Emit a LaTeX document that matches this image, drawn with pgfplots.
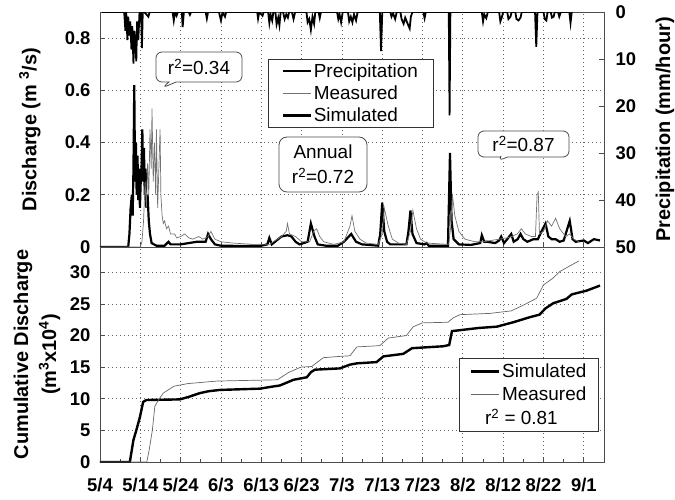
\documentclass[border=0pt]{standalone}
\usepackage{pgfplots}
\pgfplotsset{compat=1.18}
\usepackage{fontspec}
\setmainfont{Liberation Sans}
\usetikzlibrary{shapes.callouts}
\pgfplotsset{
  myax/.style={scale only axis, width=504bp, xmin=0, xmax=125,
    axis line style={black!70, line width=0.8bp},
    tick style={black!70, line width=0.8bp},
    major tick length=5bp, minor tick length=3bp,
    grid style={black!60, line width=0.8bp, dash pattern=on 0.8bp off 3.2bp},
    /pgf/number format/assume math mode=true,
    ticklabel style={font=\fontsize{18.5}{18.5}\selectfont\bfseries},
    label style={font=\fontsize{20}{28}\selectfont\bfseries},
  },
  legend image code/.code={\draw[#1] (0bp,0bp) -- (28bp,0bp);},
}
\begin{document}
\begin{tikzpicture}
\useasboundingbox (-100bp,-38bp) rectangle (575bp,462bp);
% ---------------- bottom panel: cumulative discharge
\begin{axis}[myax, at={(0bp,0bp)}, anchor=south west, height=215bp,
  ymin=0, ymax=34, ytick={0,5,10,15,20,25,30}, yticklabels={0,5,10,15,20,25,30},
  xtick={0,10,...,120}, minor x tick num=1,
  xticklabels={5/4,5/14,5/24,6/3,6/13,6/23,7/3,7/13,7/23,8/2,8/12,8/22,9/1},
  xtick pos=bottom, ytick pos=left,
  xmajorgrids, ymajorgrids,
  xticklabel style={yshift=-13bp},
  yticklabel style={xshift=-6bp},
  ylabel={Cumulative Discharge\\(m\textsuperscript{3}x10\textsuperscript{4})},
  ylabel style={at={(axis description cs:-0.125,0.5)}, anchor=center, align=center},
  legend style={at={(0.712,0.484)}, anchor=north west, draw=black!80, line width=0.8bp,
    font=\fontsize{19}{19}\selectfont, inner xsep=11bp, inner ysep=4bp,
    nodes={inner sep=1.5bp}, row sep=4.5bp},
  legend cell align=left,
]
\addplot[black, line width=2.4bp] coordinates {
(0,0) (7.4,0) (8.3,3.5) (9.0,5.0) (9.9,7.1) (10.7,9.5) (11.5,9.8) (19.8,9.9)
(22,10.3) (24.8,10.9) (27,11.2) (29.8,11.4) (39.7,11.6) (42.5,11.9) (44.6,12.1)
(46.5,12.6) (48,13.0) (51.3,13.4) (52.3,14.2) (53.3,14.6) (59.5,14.8) (62,15.4)
(63.7,15.6) (68.6,15.8) (70.3,16.7) (75.2,17.1) (77.4,18.0) (85.1,18.3) (86.6,18.5)
(87.3,20.7) (90,20.9) (94,21.2) (98.4,21.4) (102.5,22.1) (106.6,22.9) (109,23.3)
(110.5,24.3) (112.4,25.1) (115.7,25.8) (117,26.5) (118.2,26.7) (120.7,27.1) (124,27.9)};
\addlegendentry{Simulated}
\addplot[black!60, line width=0.7bp] coordinates {
(0,0) (11.6,0) (12.2,1.9) (13,5.1) (13.6,8.8) (14.5,9.8) (15.7,10.9) (18.4,12.0)
(21.8,12.4) (29,12.8) (44,13.0) (46.6,14.1) (49.8,15.0) (52.5,15.1) (55.4,16.5)
(59.5,16.7) (62,16.8) (63.7,18.2) (69.4,18.4) (71.5,19.6) (76,20.0) (77.7,21.4)
(80,22.0) (86.3,22.1) (87.6,22.8) (89.3,23.3) (96.7,23.5) (102,23.9) (105,24.8)
(108.3,25.9) (110,28.0) (112.4,29.1) (114,30.1) (116.5,31.0) (118.8,31.8)};
\addlegendentry{Measured}
\addlegendimage{empty legend}
\addlegendentry{\hspace{-17bp}r\textsuperscript{2} = 0.81}
\end{axis}
% ---------------- top panel: discharge
\begin{axis}[myax, at={(0bp,215bp)}, anchor=south west, height=235bp,
  ymin=0, ymax=0.9, ytick={0,0.2,0.4,0.6,0.8}, yticklabels={0,0.2,0.4,0.6,0.8},
  xtick={0,10,...,120}, xticklabels={},
  xtick pos=bottom, ytick pos=left,
  xmajorgrids, ymajorgrids,
  yticklabel style={xshift=-6bp},
  ylabel={Discharge (m \textsuperscript{3}/s)},
  ylabel style={at={(axis description cs:-0.139,0.5)}, anchor=center},
  legend style={at={(0.333,0.80)}, anchor=north west, draw=black!80, line width=0.8bp,
    font=\fontsize{19}{19}\selectfont, inner xsep=14bp, inner ysep=3bp,
    nodes={inner sep=1.2bp}, row sep=4.5bp},
  legend cell align=left,
]
\addlegendimage{black, line width=2.4bp}
\addlegendentry{Precipitation}
\addlegendimage{black!55, line width=0.7bp}
\addlegendentry{Measured}
\addlegendimage{black, line width=2.4bp}
\addlegendentry{Simulated}
\addplot[black, line width=2.2bp, forget plot] coordinates {
(0,0) (7.0,0.0) (7.3,0.05) (7.6,0.15) (7.9,0.2) (8.1,0.12) (8.3,0.3) (8.5,0.62)
(8.7,0.25) (8.9,0.4) (9.1,0.2) (9.3,0.35) (9.5,0.18) (9.7,0.3) (9.9,0.15)
(10.1,0.25) (10.3,0.3) (10.5,0.45) (10.7,0.25) (10.9,0.38) (11.1,0.2) (11.3,0.3)
(11.5,0.15) (11.8,0.2) (12.1,0.1) (12.4,0.05) (12.8,0.015) (14,0.005) (16,0.005)
(17,0.02) (17.5,0.01) (20,0.01) (22,0.015) (24,0.02) (26.2,0.02) (26.8,0.05)
(27.5,0.03) (28.5,0.01) (30,0.005) (35,0.004) (40,0.005) (41.5,0.01) (42,0.035)
(42.6,0.01) (43.4,0.02) (45,0.04) (46.5,0.045) (47.5,0.04) (48.5,0.02) (49.5,0.01)
(51.5,0.02) (52.3,0.09) (53.2,0.04) (54,0.01) (56,0.005) (59,0.005) (60.5,0.02)
(62.3,0.05) (63.5,0.02) (65,0.01) (69,0.005) (69.5,0.05) (70,0.17) (70.5,0.06)
(71.2,0.02) (72,0.01) (76,0.01) (76.5,0.06) (77,0.14) (77.5,0.05) (78.5,0.015)
(80.5,0.01) (81,0.015) (81.5,0.005) (86.3,0.005) (86.8,0.36) (87.2,0.1) (87.7,0.03)
(89,0.01) (92,0.008) (94.3,0.015) (94.7,0.045) (95.3,0.02) (96,0.02) (98,0.015)
(99,0.025) (99.5,0.04) (100.2,0.015) (101,0.03) (102,0.05) (102.6,0.02) (103.6,0.03)
(104.3,0.05) (105,0.03) (106,0.02) (107.5,0.03) (108.6,0.03) (109.5,0.06) (110.5,0.09)
(111.2,0.04) (112,0.03) (113,0.03) (114,0.02) (115,0.025) (116.5,0.1) (117.2,0.03)
(118,0.02) (120,0.025) (121,0.015) (122.5,0.03) (124,0.025)};
\addplot[black!55, line width=0.7bp, forget plot] coordinates {
(0,0) (10,0.0) (10.4,0.02) (10.8,0.1) (11.2,0.25) (11.5,0.15) (11.8,0.32) (12.1,0.2)
(12.4,0.45) (12.7,0.3) (12.9,0.53) (13.2,0.25) (13.5,0.4) (13.8,0.2) (14.0,0.45)
(14.3,0.15) (14.6,0.3) (14.9,0.45) (15.1,0.2) (15.4,0.12) (15.7,0.09) (16,0.1)
(16.5,0.07) (17,0.08) (17.5,0.05) (18.5,0.05) (19,0.035) (20,0.04) (21,0.05)
(22,0.035) (23,0.03) (24.5,0.04) (25.5,0.03) (26.8,0.04) (27.5,0.06) (28.5,0.03)
(30,0.02) (33,0.015) (38,0.01) (42,0.01) (43,0.02) (45,0.04) (46.2,0.06) (46.5,0.09)
(47,0.05) (48.5,0.04) (50,0.02) (52,0.02) (53,0.06) (53.7,0.07) (54.5,0.04)
(55.5,0.02) (58,0.01) (60.5,0.02) (62,0.08) (62.5,0.12) (63.2,0.06) (64.5,0.03)
(66,0.015) (69,0.01) (70,0.05) (70.5,0.15) (71.5,0.08) (72.5,0.03) (74,0.015)
(76,0.01) (77,0.06) (77.6,0.14) (78.5,0.07) (79.5,0.03) (81,0.015) (86.5,0.01)
(87,0.08) (87.4,0.2) (88,0.12) (89,0.06) (90.5,0.03) (93,0.02) (95,0.02) (97,0.025)
(99,0.03) (101,0.035) (102,0.04) (103.5,0.05) (104.5,0.07) (105.5,0.05) (107,0.04)
(108,0.04) (108.4,0.2) (108.7,0.21) (109,0.05) (110,0.06) (111,0.1) (112,0.08)
(113,0.11) (114,0.07) (115.5,0.04) (116.5,0.05) (117.5,0.03) (118.8,0.02)};
\end{axis}
% ---------------- top panel: precipitation (reversed, right axis)
\begin{axis}[myax, at={(0bp,215bp)}, anchor=south west, height=235bp,
  ymin=0, ymax=50, y dir=reverse,
  axis y line*=right, axis x line=none,
  ytick={0,10,20,30,40,50}, yticklabels={0,10,20,30,40,50},
  yticklabel style={xshift=8bp},
  ylabel={Precipitation (mm/hour)},
  ylabel style={at={(axis description cs:1.121,0.5)}, anchor=center, rotate=0},
]
\addplot[black, line width=1.8bp] coordinates {
(0.5,0) (6.0,0) (6.3,4) (6.5,0) (6.8,6) (7.0,1) (7.3,5) (7.5,2) (7.8,8) (8.0,3)
(8.3,11) (8.5,4) (8.8,7) (9.0,10.5) (9.2,2) (9.5,6) (9.8,0) (10.2,0) (10.4,7.7)
(10.6,0) (11.0,0) (12.0,1) (12.3,0) (18.0,0) (18.3,1.8) (18.6,0) (19.0,0.8) (19.3,0)
(20.3,0) (20.5,3.2) (20.8,0) (22,0) (22.3,0.6) (22.6,0) (26.2,0) (26.5,1.4) (26.8,0)
(29.5,0) (30,1.8) (30.4,0) (31,1) (31.3,0) (39,0) (39.2,1.4) (39.5,0) (40.3,0.8)
(40.6,0) (41.7,0) (42,2.3) (42.3,0.5) (42.7,1.8) (43,0) (43.5,0) (43.8,2.6) (44.2,1.2)
(44.5,2.8) (44.8,0) (45.4,0) (45.8,1.5) (46.2,0.5) (46.6,1.2) (46.9,0) (47.6,0)
(48,1.5) (48.4,0) (51.2,0) (51.5,2.2) (51.9,1.5) (52.3,3.8) (52.7,1) (53.1,2.5)
(53.4,0) (54.2,0) (54.5,1.3) (54.8,0) (58.8,0) (59.1,1.5) (59.4,0.5) (59.8,2.2)
(60.2,0) (61.5,0) (61.8,2) (62.2,1) (62.6,2.2) (63,0.5) (63.5,1.8) (63.9,0) (69.4,0)
(69.7,8.3) (70.0,0) (72,0) (72.3,1) (72.7,0.3) (73.2,1.5) (73.6,0) (74.5,0) (74.8,1.5)
(75.3,2.5) (75.7,1.2) (76.3,2.5) (76.8,3.5) (77.1,1) (77.5,0) (80.2,0) (80.5,1.3)
(80.8,0) (86.5,0) (86.7,22) (86.9,0) (94.7,0) (95,2) (95.3,0.5) (95.8,1.3) (96.2,0)
(99,0) (99.3,2) (99.7,1) (100,0) (101,0) (101.3,1.5) (101.8,1) (102.1,0) (103,0)
(103.3,1.5) (103.8,1.8) (104.3,1.2) (104.6,0) (107.9,0) (108.2,7.4) (108.5,0) (110,0)
(110.3,1.5) (110.7,1.8) (111,0) (111.8,0) (112.1,1.2) (112.5,1) (112.8,0) (113.6,0)
(113.9,1) (114.3,0) (116.4,0) (116.7,2.3) (117,0)};
\end{axis}
% ---------------- callouts
\node[rectangle callout, draw=black!70, line width=0.8bp, fill=white, rounded corners=6bp,
  minimum width=86bp, minimum height=30bp, inner sep=0bp,
  callout absolute pointer={(62bp,374bp)}, font=\fontsize{19}{19}\selectfont]
  at (99bp,395bp) {r\textsuperscript{2}=0.34};
\node[draw=black!70, line width=0.8bp, fill=white, rounded corners=8bp,
  minimum width=88bp, minimum height=55bp, inner sep=0bp, align=center,
  font=\fontsize{19}{25}\selectfont]
  at (223bp,297.5bp) {Annual\\r\textsuperscript{2}=0.72};
\node[rectangle callout, draw=black!70, line width=0.8bp, fill=white, rounded corners=6bp,
  minimum width=91bp, minimum height=26bp, inner sep=0bp,
  callout absolute pointer={(398bp,301bp)}, font=\fontsize{19}{19}\selectfont]
  at (423.5bp,318bp) {r\textsuperscript{2}=0.87};
\end{tikzpicture}
\end{document}
